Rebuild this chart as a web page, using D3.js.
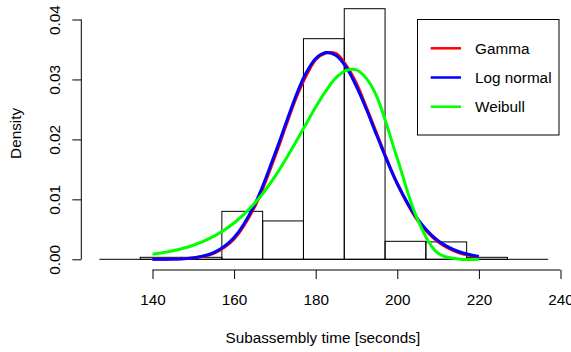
<!DOCTYPE html>
<html>
<head>
<meta charset="utf-8">
<script src="https://cdn.jsdelivr.net/npm/d3@7"></script>
<style>
  html, body { margin: 0; padding: 0; background: #fff; }
  svg { display: block; font-family: "Liberation Sans", Arial, sans-serif; }
</style>
</head>
<body>
<div id="chart"></div>
<script>
// histogram bins (seconds) and densities
const binEdges = [137, 147, 157, 167, 177, 187, 197, 207, 217, 227]
const binDensity = [0.00033, 0.00033, 0.0080, 0.0064, 0.0368, 0.0418, 0.0030, 0.0029, 0.00033]

// fitted density curves
const curveX = [140, 145, 150, 155, 160, 165, 170, 175, 177.5, 180, 182.5, 185, 187.5, 190, 192.5, 195, 200, 205, 210, 215, 220]
const gammaY = [0.000005, 0.00004, 0.00022, 0.0010, 0.0034, 0.0087, 0.0171, 0.0266, 0.0304, 0.0333, 0.0344, 0.0343, 0.0323, 0.0293, 0.0252, 0.0209, 0.0126, 0.0065, 0.0029, 0.0011, 0.00038]
const lognormY = [0.000004, 0.00004, 0.00024, 0.0011, 0.00363, 0.00907, 0.0176, 0.0270, 0.0309, 0.0335, 0.0345, 0.0340, 0.0320, 0.0288, 0.0249, 0.0206, 0.0126, 0.0067, 0.0031, 0.0013, 0.00047]
const weibullY = [0.00083, 0.00142, 0.00235, 0.00383, 0.00606, 0.0093, 0.0138, 0.0194, 0.0224, 0.0254, 0.0281, 0.0303, 0.0315, 0.0316, 0.0301, 0.0271, 0.0168, 0.0066, 0.0010, 0.00005, 0.00001]

const series = [
    { name: 'Gamma', values: gammaY, color: '#ff0000' },
    { name: 'Log normal', values: lognormY, color: '#0000ff' },
    { name: 'Weibull', values: weibullY, color: '#00ff00' }
]

const xTicks = [140, 160, 180, 200, 220, 240]
const yTicks = [0, 0.01, 0.02, 0.03, 0.04]
const yTickLabels = ['0.00', '0.01', '0.02', '0.03', '0.04']
const baseRange = [127, 237]

const width = 571, height = 352
const fontSize = 15.3

const svg = d3.select('#chart')
    .append('svg')
    .attr('width', width)
    .attr('height', height)

const x = d3.scaleLinear()
    .domain([140, 240])
    .range([152.5, 560.5])
const y = d3.scaleLinear()
    .domain([0, 0.04])
    .range([259.3, 19.5])

// histogram
svg.append('g')
    .selectAll('rect')
    .data(binDensity)
    .join('rect')
    .attr('x', (d, i) => x(binEdges[i]))
    .attr('y', d => y(d))
    .attr('width', (d, i) => x(binEdges[i + 1]) - x(binEdges[i]))
    .attr('height', d => y(0) - y(d))
    .attr('fill', 'none')
    .attr('stroke', '#000')
    .attr('stroke-width', 1)

// zero line
svg.append('line')
    .attr('x1', x(baseRange[0]))
    .attr('x2', x(baseRange[1]))
    .attr('y1', y(0))
    .attr('y2', y(0))
    .attr('stroke', '#000')

// curves
const line = d3.line()
    .x((d, i) => x(curveX[i]))
    .y(d => y(d))
    .curve(d3.curveCatmullRom.alpha(0.5))

series.forEach(s => {
    svg.append('path')
        .datum(s.values)
        .attr('fill', 'none')
        .attr('stroke', s.color)
        .attr('stroke-width', 3)
        .attr('stroke-linejoin', 'round')
        .attr('d', line)
})

// x axis
const xAxis = g => g
    .attr('transform', 'translate(0,270)')
    .call(d3.axisBottom(x).tickValues(xTicks).tickSize(9).tickPadding(14).tickFormat(d3.format('d')))
    .call(g => g.select('.domain').attr('d', `M${x(140)},0H${x(240)}`))

svg.append('g')
    .call(xAxis)
    .call(g => g.selectAll('text')
        .attr('font-size', fontSize)
        .attr('font-family', '"Liberation Sans", Arial, sans-serif')
        .attr('fill', '#000')
        .attr('dy', null)
        .attr('y', 35))

// y axis
const yAxis = g => g
    .attr('transform', 'translate(81.3,0)')
    .call(d3.axisLeft(y).tickValues(yTicks).tickSize(9).tickFormat((d, i) => yTickLabels[i]))
    .call(g => g.select('.domain').attr('d', `M0,${y(0)}V${y(0.04)}`))

svg.append('g')
    .call(yAxis)
    .call(g => g.selectAll('text')
        .attr('font-size', fontSize)
        .attr('font-family', '"Liberation Sans", Arial, sans-serif')
        .attr('fill', '#000')
        .attr('x', null)
        .attr('dy', null)
        .attr('text-anchor', 'middle')
        .attr('transform', 'translate(-21.8,0) rotate(-90)'))

// axis titles
svg.append('text')
    .attr('x', 322.8)
    .attr('y', 343)
    .attr('text-anchor', 'middle')
    .attr('font-size', fontSize)
    .text('Subassembly time [seconds]')

svg.append('text')
    .attr('transform', 'translate(21.3,133.4) rotate(-90)')
    .attr('text-anchor', 'middle')
    .attr('font-size', fontSize)
    .text('Density')

// legend
const legend = svg.append('g')
legend.append('rect')
    .attr('x', 417.5)
    .attr('y', 19.5)
    .attr('width', 141.5)
    .attr('height', 115.5)
    .attr('fill', '#fff')
    .attr('stroke', '#000')

series.forEach((s, i) => {
    const ly = 48.3 + i * 29.2
    legend.append('line')
        .attr('x1', 430.7)
        .attr('x2', 461)
        .attr('y1', ly)
        .attr('y2', ly)
        .attr('stroke', s.color)
        .attr('stroke-width', 2.5)
    legend.append('text')
        .attr('x', 475)
        .attr('y', ly + 5.5)
        .attr('font-size', fontSize)
        .text(s.name)
})
</script>
</body>
</html>
